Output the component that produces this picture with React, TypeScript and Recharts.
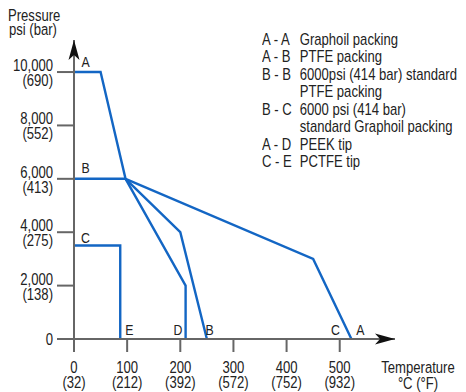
import React from 'react';
import { LineChart, Line, XAxis, YAxis, Legend, ReferenceDot } from 'recharts';

// temperature in °C, pressure in psi
const graphoilTemp = [0, 50, 97, 450, 522];
const graphoilPsi = [10000, 10000, 6000, 3000, 0];

const ptfeTemp = [97, 200, 250];
const ptfePsi = [6000, 4000, 0];

const standardTemp = [0, 97];
const standardPsi = [6000, 6000];

const peekTemp = [97, 210, 210];
const peekPsi = [6000, 2000, 0];

const pctfeTemp = [0, 87, 87];
const pctfePsi = [3500, 3500, 0];

const tempTicks = [0, 100, 200, 300, 400, 500];
const fahrenheitLabels = ['(32)', '(212)', '(392)', '(572)', '(752)', '(932)'];

const psiTicks = [0, 2000, 4000, 6000, 8000, 10000];
const psiLabels = ['0', '2,000', '4,000', '6,000', '8,000', '10,000'];
const barLabels = ['', '(138)', '(275)', '(413)', '(552)', '(690)'];

const legendRows = [
    ['A - A', 'Graphoil packing'],
    ['A - B', 'PTFE packing'],
    ['B - B', '6000psi (414 bar) standard'],
    ['', 'PTFE packing'],
    ['B - C', '6000 psi (414 bar)'],
    ['', 'standard Graphoil packing'],
    ['A - D', 'PEEK tip'],
    ['C - E', 'PCTFE tip'],
];

const toPoints = (temps: number[], psis: number[]) => temps.map((t, i) => ({ t, p: psis[i] }));

const SERIES = [
    { name: 'graphoil', data: toPoints(graphoilTemp, graphoilPsi) },
    { name: 'ptfe', data: toPoints(ptfeTemp, ptfePsi) },
    { name: 'standard', data: toPoints(standardTemp, standardPsi) },
    { name: 'peek', data: toPoints(peekTemp, peekPsi) },
    { name: 'pctfe', data: toPoints(pctfeTemp, pctfePsi) },
];

// letter markers on the curves (data coords)
const CURVE_LABELS = [
    { text: 'A', t: 21.6, p: 10190 },
    { text: 'B', t: 21.6, p: 6220 },
    { text: 'C', t: 21.6, p: 3600 },
    { text: 'E', t: 104, p: 150 },
    { text: 'D', t: 195.6, p: 150 },
    { text: 'B', t: 255, p: 150 },
    { text: 'C', t: 492, p: 150 },
    { text: 'A', t: 539, p: 150 },
];

const BLUE = '#1366c4';
const AXIS = '#666';
const INK = '#222';
const FONT = '"Liberation Sans", Arial, sans-serif';
const SQUEEZE = 0.77; // condensed look
const X_MAX = 604;
const Y_MAX = 11200;

// narrow text: drawn normally then squeezed horizontally around its anchor
const NText = ({ x, y, anchor = 'start', size = 17, squeeze = SQUEEZE, children }: any) => (
    <g transform={`translate(${x},${y}) scale(${squeeze},1)`}>
        <text x={0} y={0} textAnchor={anchor} fontSize={size} fill={INK} fontFamily={FONT}>
            {children}
        </text>
    </g>
);

const YTick = ({ x, y, payload }: any) => {
    const i = psiTicks.indexOf(payload.value);
    if (i === 0) return <NText x={x - 2} y={y + 6} anchor="end">{psiLabels[i]}</NText>;
    return (
        <g>
            <NText x={x - 2} y={y - 1} anchor="end">{psiLabels[i]}</NText>
            <NText x={x - 2} y={y + 14} anchor="end">{barLabels[i]}</NText>
        </g>
    );
};

const XTick = ({ x, y, payload }: any) => {
    const i = tempTicks.indexOf(payload.value);
    return (
        <g>
            <NText x={x} y={y + 18.5} anchor="middle">{String(payload.value)}</NText>
            <NText x={x} y={y + 34} anchor="middle">{fahrenheitLabels[i]}</NText>
        </g>
    );
};

const LegendBox = () => (
    <div
        style={{
            fontFamily: FONT,
            fontSize: 17,
            lineHeight: '17.5px',
            color: INK,
            transform: `scaleX(${SQUEEZE})`,
            transformOrigin: '0 0',
        }}
    >
        {legendRows.map(([key, text], i) => (
            <div key={i} style={{ display: 'flex', whiteSpace: 'nowrap' }}>
                <span style={{ width: 49, flexShrink: 0 }}>{key}</span>
                <span>{text}</span>
            </div>
        ))}
    </div>
);

export default function App() {
    return (
        <div style={{ position: 'absolute', left: 0, top: 0, width: 466, height: 392, background: '#fff', fontFamily: FONT }}>
            <LineChart width={466} height={392} margin={{ top: 40, right: 71, left: 0, bottom: 0 }}>
                <XAxis
                    type="number"
                    dataKey="t"
                    domain={[0, X_MAX]}
                    ticks={tempTicks}
                    allowDataOverflow
                    height={53}
                    tickSize={13}
                    axisLine={{ stroke: AXIS, strokeWidth: 2 }}
                    tickLine={{ stroke: AXIS, strokeWidth: 2 }}
                    tick={<XTick />}
                    label={{
                        content: () => (
                            <g>
                                <NText x={418} y={373} anchor="middle">Temperature</NText>
                                <NText x={418} y={389} anchor="middle">°C (°F)</NText>
                            </g>
                        ),
                    }}
                />
                <YAxis
                    type="number"
                    dataKey="p"
                    domain={[0, Y_MAX]}
                    ticks={psiTicks}
                    allowDataOverflow
                    width={74}
                    tickSize={17}
                    axisLine={{ stroke: AXIS, strokeWidth: 2 }}
                    tickLine={{ stroke: AXIS, strokeWidth: 2 }}
                    tick={<YTick />}
                    label={{
                        content: () => (
                            <g>
                                <NText x={8} y={21}>Pressure</NText>
                                <NText x={9} y={35}>psi (bar)</NText>
                            </g>
                        ),
                    }}
                />
                <Legend
                    layout="horizontal"
                    verticalAlign="middle"
                    align="center"
                    wrapperStyle={{ position: 'absolute', top: 30.5, left: 262, width: 210, height: 150 }}
                    content={<LegendBox />}
                />
                {SERIES.map((s) => (
                    <Line
                        key={s.name}
                        data={s.data}
                        dataKey="p"
                        type="linear"
                        stroke={BLUE}
                        strokeWidth={2.4}
                        dot={false}
                        activeDot={false}
                        legendType="none"
                        isAnimationActive={false}
                    />
                ))}
                <ReferenceDot
                    x={0}
                    y={Y_MAX}
                    ifOverflow="visible"
                    shape={(p: any) => (
                        <polygon
                            points={`${p.cx},${p.cy} ${p.cx - 5.5},${p.cy + 20} ${p.cx},${p.cy + 15} ${p.cx + 5.5},${p.cy + 20}`}
                            fill="#111"
                        />
                    )}
                />
                <ReferenceDot
                    x={X_MAX}
                    y={0}
                    ifOverflow="visible"
                    shape={(p: any) => (
                        <polygon
                            points={`${p.cx},${p.cy} ${p.cx - 20},${p.cy - 5.5} ${p.cx - 15},${p.cy} ${p.cx - 20},${p.cy + 5.5}`}
                            fill="#111"
                        />
                    )}
                />
                {CURVE_LABELS.map((l, i) => (
                    <ReferenceDot
                        key={i}
                        x={l.t}
                        y={l.p}
                        ifOverflow="visible"
                        shape={(p: any) => (
                            <NText x={p.cx} y={p.cy} anchor="middle" size={15} squeeze={0.82}>
                                {l.text}
                            </NText>
                        )}
                    />
                ))}
            </LineChart>
        </div>
    );
}
